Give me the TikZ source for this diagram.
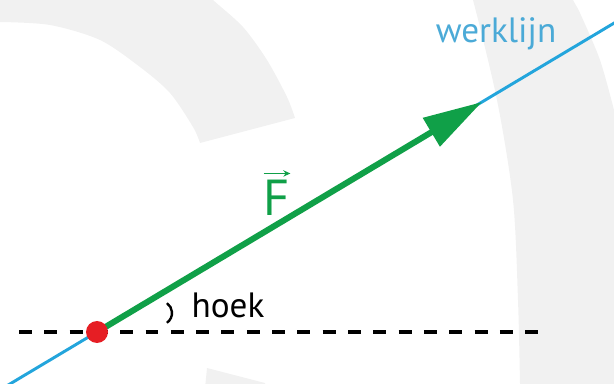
\documentclass[tikz,border=0pt]{standalone}
\usepackage{fontspec}
\setmainfont{PT Sans}
\usetikzlibrary{arrows.meta}
\definecolor{forcegreen}{RGB}{16,160,72}
\definecolor{lineblue}{RGB}{35,165,220}
\definecolor{labelblue}{RGB}{75,170,215}
\definecolor{pointred}{RGB}{230,30,36}
\definecolor{logogray}{RGB}{241,241,241}

\begin{document}
\begin{tikzpicture}[x=0.025cm, y=0.025cm, >=Stealth]

    \tikzset{
        band/.style={fill=logogray},
        werk/.style={lineblue, line width=2.1pt},
        txt/.style={inner sep=0pt, anchor=base},
    }

    % Picture frame (614 x 383)
    \useasboundingbox (0,0) rectangle (614,383);
    \clip (0,0) rectangle (614,383);

    % Faint shapes in the background
    \fill[band] plot[smooth] coordinates {(0,361) (50,358) (100,343) (140,316) (170,290) (193,256) (200,240)}
        -- plot[smooth] coordinates {(295,265) (287,286) (267,323) (243,356) (213,383) (195,400)}
        -- (0,400) -- cycle;
    \fill[band] plot[smooth] coordinates {(466,400) (473,383) (497,283) (513,183) (518,83) (520,0) (520,-10)}
        -- (640,-10) -- (640,240)
        -- plot[smooth] coordinates {(614,273) (600,323) (580,370) (573,383) (568,400)} -- cycle;
    \fill[band] (205,-5) -- (207,15) -- (265,0) -- (265,-5) -- cycle;

    % Parameters: point of application and tip of the force
    \def\px{97}
    \def\py{51}
    \coordinate (aangrijp) at (\px,\py);
    \coordinate (tip) at (482,281);

    % Line of action
    \coordinate (wa) at (0,-6.9);
    \coordinate (wb) at (640,375.4);
    \draw[werk] (wa) -- (wb);

    % Dashed horizontal
    \coordinate (ha) at (19,\py);
    \coordinate (hb) at (545,\py);
    \draw[black, line width=2.5pt, dash pattern=on 9.2pt off 8.8pt] (ha) -- (hb);

    % Angle mark
    \draw[line width=1.7pt] (166.9,60.2) arc (-55:55:12);

    % Force vector
    \draw[-{Triangle[length=42pt, width=22.7pt]}, forcegreen, line width=4.3pt] (aangrijp) -- (tip);

    % Point of application
    \node[circle, fill=pointred, inner sep=0pt, minimum size=22*0.025cm] (punt) at (aangrijp) {};

    % Labels
    \node[txt, font=\fontsize{25}{29}\selectfont, text=labelblue] (werklijn) at (496,340) {werklijn};
    \node[txt, font=\fontsize{25}{29}\selectfont] (hoek) at (228,65) {hoek};
    \node[txt, font=\fontsize{36}{40}\selectfont, text=forcegreen] (kracht) at (277,167) {F};
    \draw[-{Stealth[length=5pt, width=4.5pt]}, forcegreen, line width=1.3pt]
        ([yshift=0.17cm]kracht.north west) -- ([yshift=0.17cm]kracht.north east);

\end{tikzpicture}
\end{document}
